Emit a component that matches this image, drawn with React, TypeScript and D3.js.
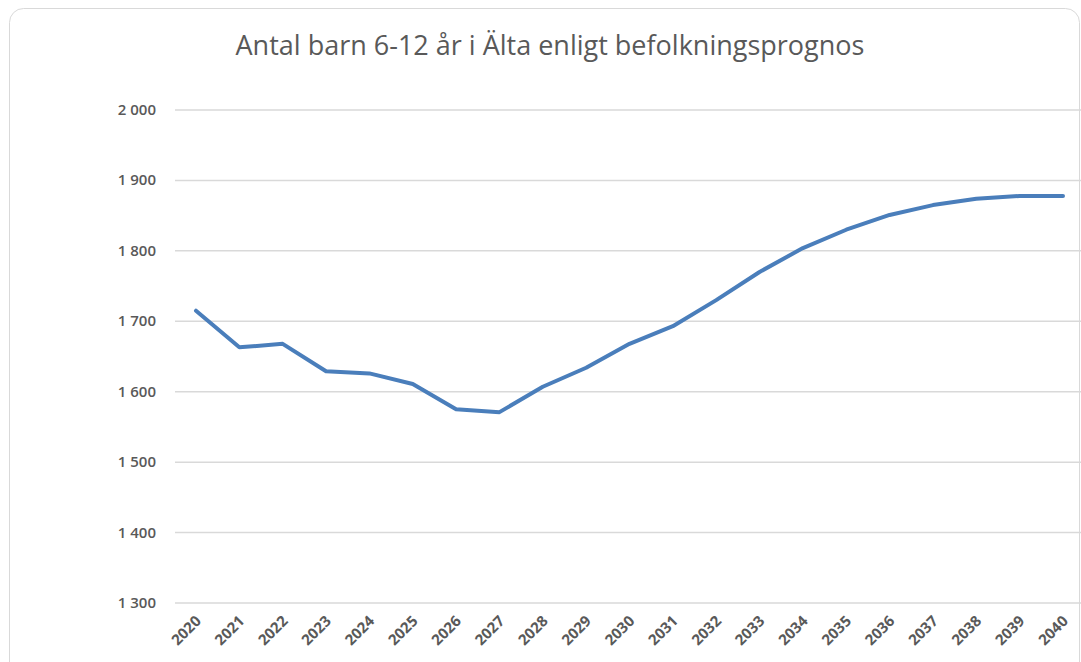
import React, { useEffect, useRef } from 'react';
import * as d3 from 'd3';

const years = [
  '2020', '2021', '2022', '2023', '2024', '2025', '2026', '2027', '2028', '2029', '2030',
  '2031', '2032', '2033', '2034', '2035', '2036', '2037', '2038', '2039', '2040',
];
const children = [
  1715, 1663, 1668, 1629, 1626, 1611, 1575, 1571, 1607, 1634, 1668,
  1693, 1730, 1770, 1804, 1830, 1851, 1865, 1874, 1878, 1878,
];
const yTicks = [1300, 1400, 1500, 1600, 1700, 1800, 1900, 2000];
const title = 'Antal barn 6-12 år i Älta enligt befolkningsprognos';

const W = 1081;
const H = 662;

const fmt = (v: number) => d3.format(',')(v).replace(',', '\u00a0');

const App = () => {
  const ref = useRef<SVGSVGElement>(null);

  useEffect(() => {
    const svg = d3.select(ref.current);
    svg.selectAll('*').remove();

    const x = d3.scalePoint().domain(years).range([196, 1063]);
    const y = d3.scaleLinear().domain([1300, 2000]).range([603, 110]);

    svg.append('rect')
      .attr('x', 9.5).attr('y', 8.5)
      .attr('width', 1070).attr('height', 700)
      .attr('rx', 14)
      .attr('fill', '#fff')
      .attr('stroke', '#d9d9d9');

    svg.append('text')
      .attr('x', 550).attr('y', 55)
      .attr('text-anchor', 'middle')
      .attr('font-family', 'Open Sans, sans-serif')
      .attr('font-size', 27)
      .attr('fill', '#595959')
      .text(title);

    const grid = svg.append('g');
    grid.selectAll('line')
      .data(yTicks)
      .enter()
      .append('line')
      .attr('x1', 175).attr('x2', 1081)
      .attr('y1', (d) => y(d)).attr('y2', (d) => y(d))
      .attr('stroke', '#d9d9d9')
      .attr('stroke-width', 1.5);

    grid.selectAll('text')
      .data(yTicks)
      .enter()
      .append('text')
      .attr('x', 156)
      .attr('y', (d) => y(d) + 5)
      .attr('text-anchor', 'end')
      .attr('font-family', 'Open Sans, sans-serif')
      .attr('font-size', 15)
      .attr('font-weight', 600)
      .attr('fill', '#595959')
      .text((d) => fmt(d));

    svg.append('g')
      .selectAll('text')
      .data(years)
      .enter()
      .append('text')
      .attr('transform', (d) => `translate(${(x(d) as number) + 6},${622}) rotate(-45)`)
      .attr('text-anchor', 'end')
      .attr('font-family', 'Open Sans, sans-serif')
      .attr('font-size', 15)
      .attr('font-weight', 700)
      .attr('fill', '#595959')
      .text((d) => d);

    const line = d3.line<number>()
      .x((_, i) => x(years[i]) as number)
      .y((d) => y(d));

    svg.append('path')
      .datum(children)
      .attr('d', line)
      .attr('fill', 'none')
      .attr('stroke', '#4a7ebb')
      .attr('stroke-width', 4)
      .attr('stroke-linejoin', 'round')
      .attr('stroke-linecap', 'round');
  }, []);

  return (
    <svg
      ref={ref}
      width={W}
      height={H}
      style={{ position: 'absolute', left: 0, top: 0, background: '#fff' }}
    ></svg>
  );
};

export default App;
